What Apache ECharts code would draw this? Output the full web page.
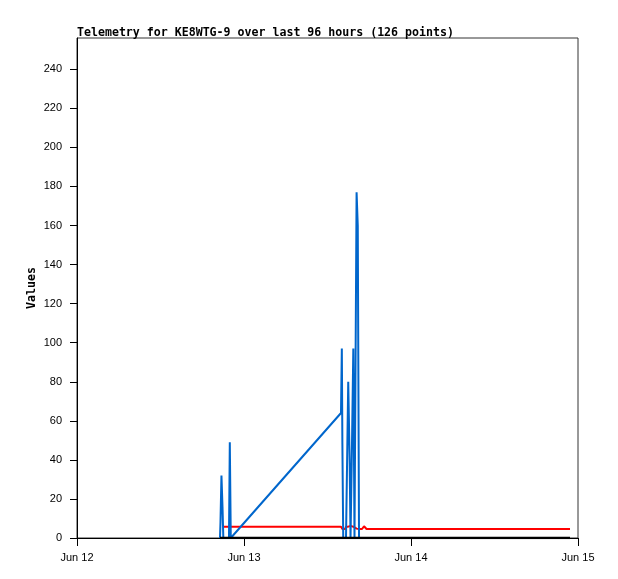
<!DOCTYPE html>
<html>
<head>
<meta charset="utf-8">
<title>Telemetry for KE8WTG-9</title>
<script src="https://cdn.jsdelivr.net/npm/echarts@6/dist/echarts.min.js"></script>
<style>
    html, body { margin: 0; padding: 0; background: #fff; }
    #chart { width: 618px; height: 579px; }
</style>
</head>
<body>
<div id="chart"></div>
<script>
// time of each sample, in hours after Jun 12 00:00
const hours = [20.55, 20.62, 20.76, 20.91, 21.03, 21.84, 21.96, 22.10, 22.28,
    37.94, 38.06, 38.14, 38.26, 38.52, 38.66, 38.98, 39.18, 39.31, 39.52,
    39.71, 39.88, 40.18, 40.35, 40.53, 40.96, 41.25, 41.61, 50.73, 60.79, 70.85];
const blueValues = [0, 8, 32, 16, 0, 0, 49, 0, 0,
    64, 97, 48, 0, 0, 0, 80, 40, 0, 48,
    97, 0, 177, 160, 0, 0, 0, 0, 0, 0, 0];
const redValues = [null, null, null, null, 5.8, 5.8, 5.8, 5.8, 5.8,
    5.8, 5.8, 4.6, 4.6, 4.6, 5.8, 5.8, 5.8, 6.2, 5.8,
    5.8, 5.8, 4.8, 4.6, 4.6, 4.6, 6.0, 4.6, 4.6, 4.6, 4.6];
const blackValues = [0, 0, 0, 0, 0, 0, 0, 0, 0,
    0, 0, 0, 0, 0, 0, 0, 0, 0, 0,
    0, 0, 0, 0, 0, 0, 0, 0, 0, 0, 0];
const dayLabels = ['Jun 12', 'Jun 13', 'Jun 14', 'Jun 15'];
const yTicks = [0, 20, 40, 60, 80, 100, 120, 140, 160, 180, 200, 220, 240];

const toPairs = (vals) => hours.map((h, i) => [h, vals[i]]);

const chart = echarts.init(document.getElementById('chart'));

const lineSeries = (name, vals, color, width) => ({
    name: name,
    type: 'line',
    data: toPairs(vals),
    showSymbol: false,
    symbol: 'none',
    connectNulls: false,
    lineStyle: { color: color, width: width },
    itemStyle: { color: color },
    animation: false
});

chart.setOption({
    animation: false,
    title: {
        text: 'Telemetry for KE8WTG-9 over last 96 hours (126 points)',
        left: 77,
        top: 27,
        padding: 0,
        textStyle: {
            fontFamily: 'DejaVu Sans Mono',
            fontWeight: 'bold',
            fontSize: 11.6,
            color: '#000'
        }
    },
    grid: {
        left: 77,
        right: 40,
        top: 38,
        bottom: 41,
        show: true,
        borderColor: '#333',
        borderWidth: 1,
        backgroundColor: '#fff'
    },
    xAxis: {
        type: 'value',
        min: 0,
        max: 72,
        interval: 24,
        axisLine: { lineStyle: { color: '#000', width: 1 } },
        axisTick: { length: 8, lineStyle: { color: '#000' } },
        axisLabel: {
            margin: 14,
            color: '#000',
            fontFamily: 'Liberation Sans',
            fontSize: 11,
            formatter: (v) => dayLabels[Math.round(v / 24)]
        },
        splitLine: { show: false }
    },
    yAxis: {
        type: 'value',
        min: 0,
        max: 256,
        name: 'Values',
        nameLocation: 'middle',
        nameGap: 39,
        nameMoveOverlap: false,
        nameTextStyle: {
            fontFamily: 'DejaVu Sans Mono',
            fontWeight: 'bold',
            fontSize: 11.6,
            color: '#000'
        },
        axisLine: { show: true, lineStyle: { color: '#000', width: 1 } },
        axisTick: { show: true, length: 7, customValues: yTicks, lineStyle: { color: '#000' } },
        axisLabel: {
            margin: 15,
            color: '#000',
            fontFamily: 'Liberation Sans',
            fontSize: 11,
            customValues: yTicks
        },
        splitLine: { show: false }
    },
    series: [
        lineSeries('red', redValues, '#ff0000', 2),
        lineSeries('blue', blueValues, '#0066cc', 2),
        lineSeries('black', blackValues, '#000000', 2.5)
    ]
});
</script>
</body>
</html>
